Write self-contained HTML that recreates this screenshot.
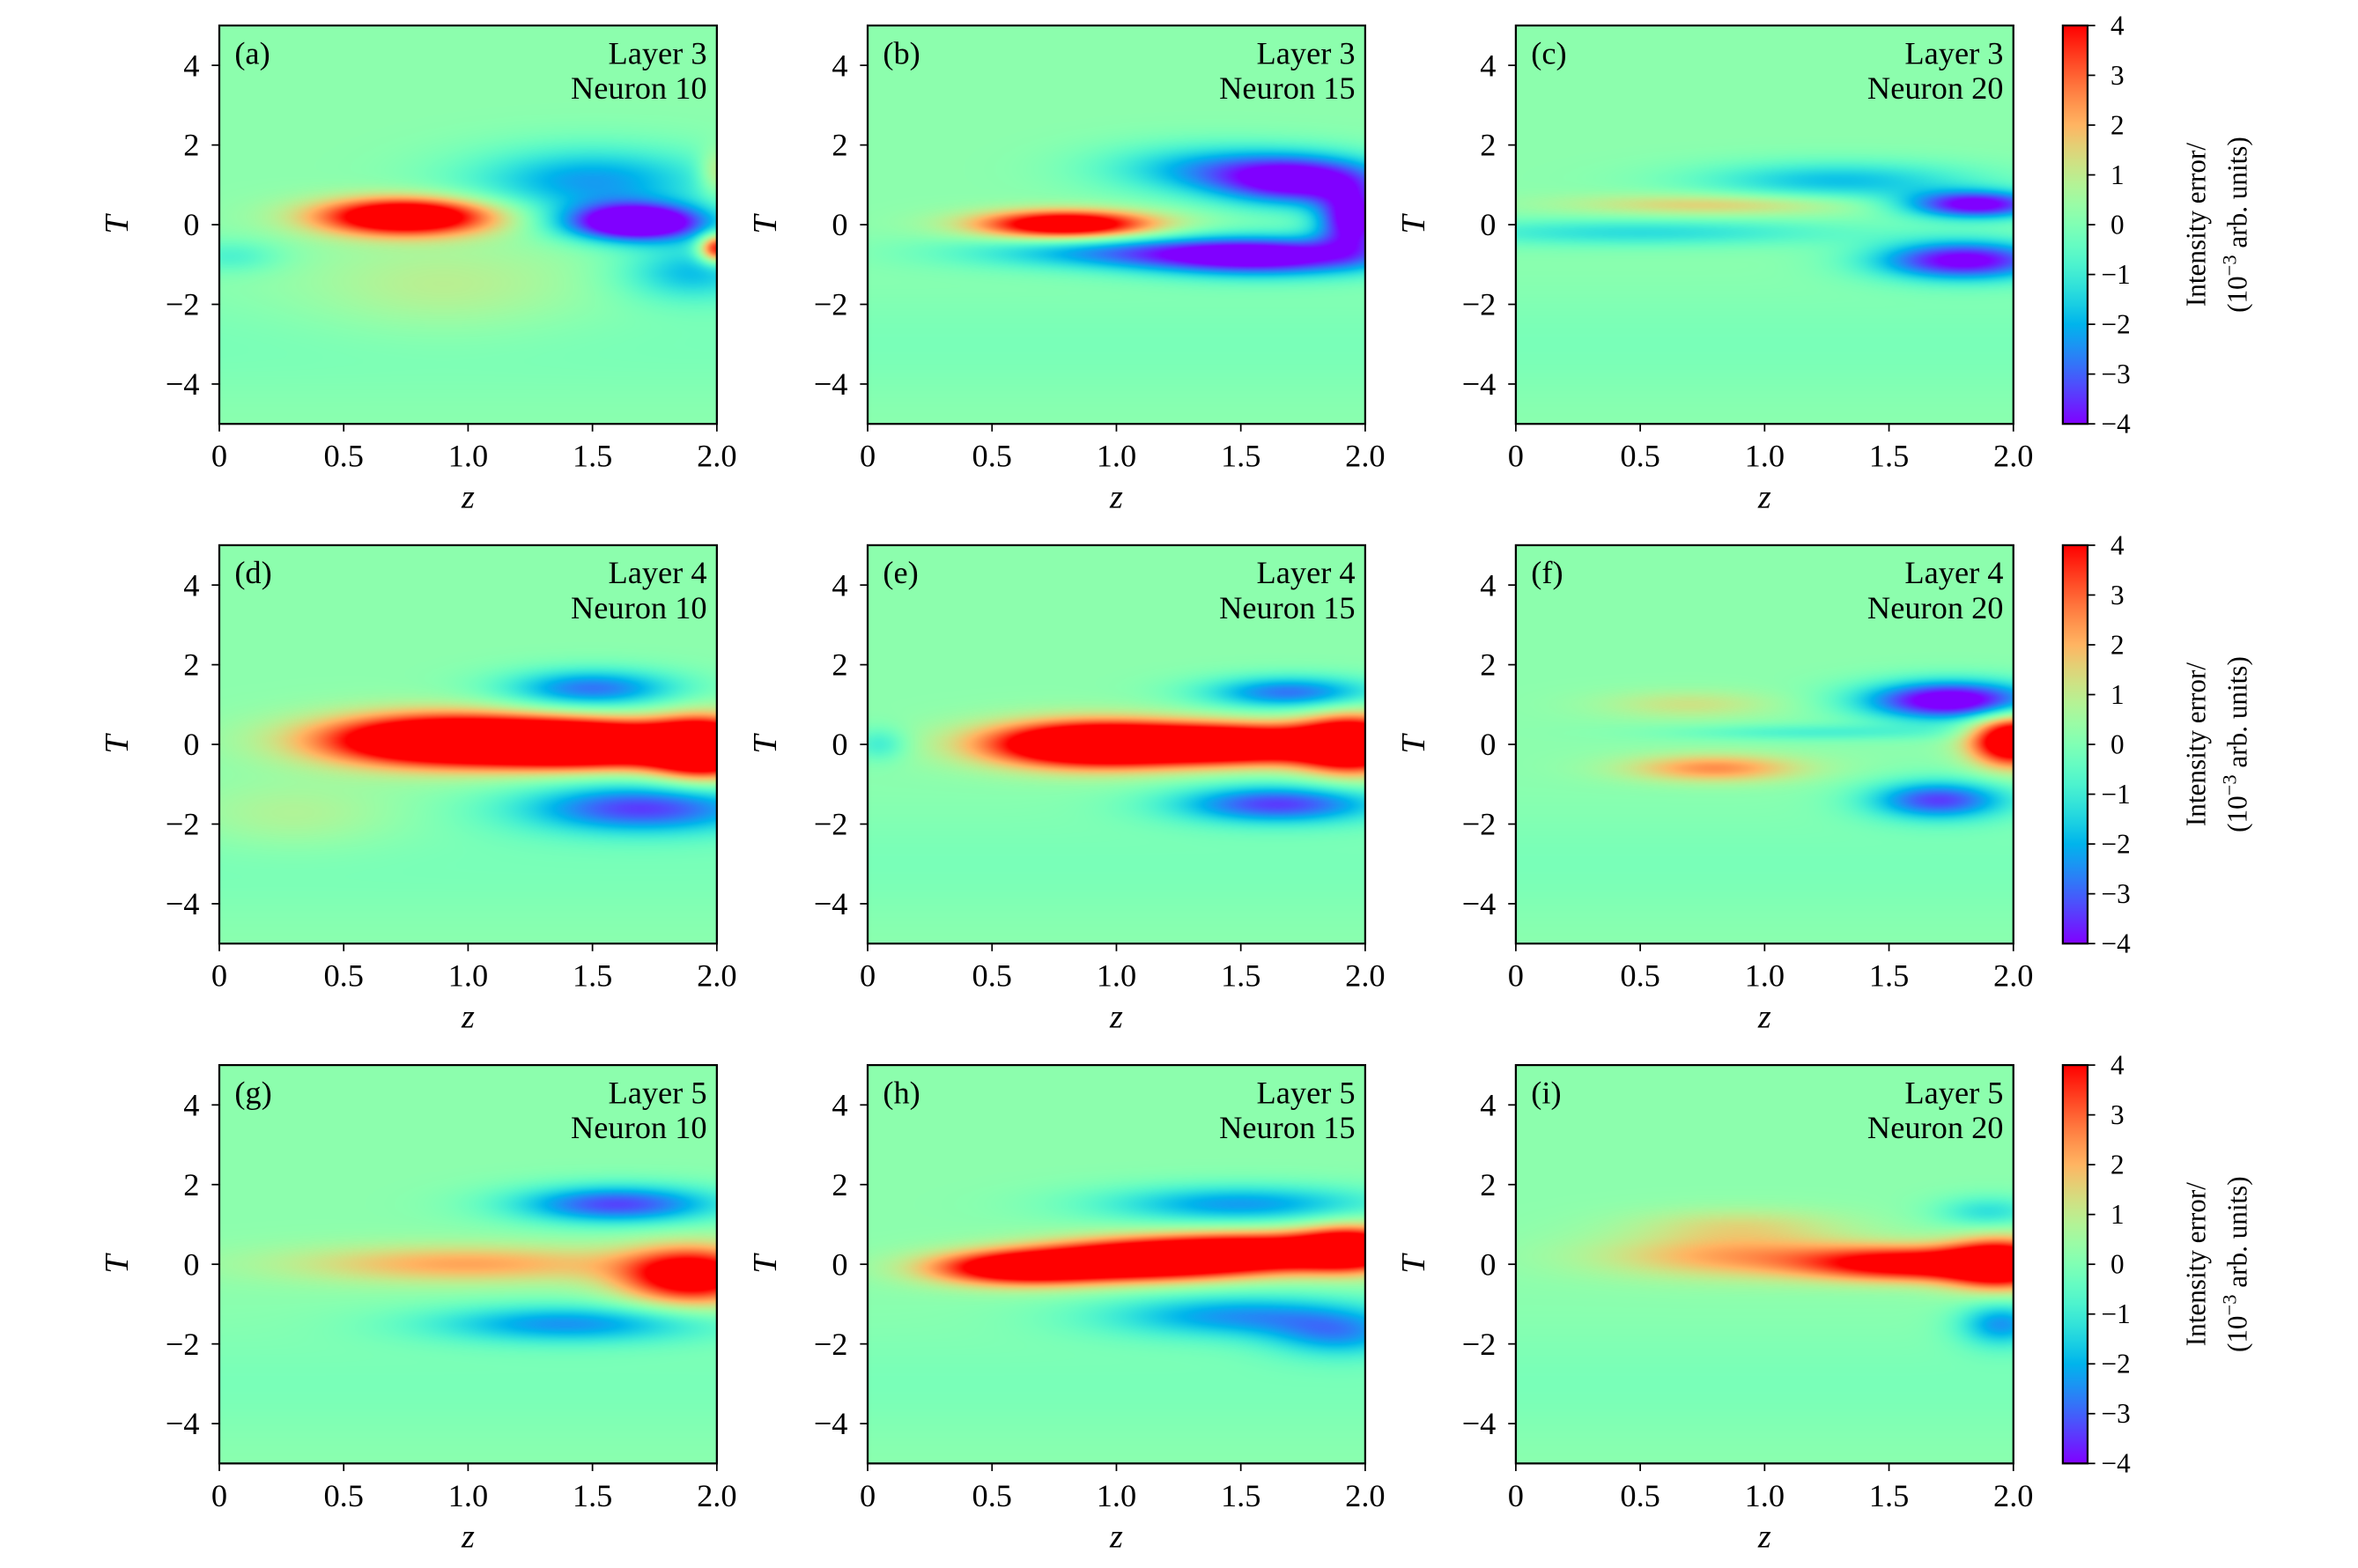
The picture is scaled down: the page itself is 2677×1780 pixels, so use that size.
<!DOCTYPE html>
<html><head><meta charset="utf-8"><style>
html,body{margin:0;padding:0;background:#fff}
#page{position:relative;width:2677px;height:1780px;overflow:hidden;background:#fff}
canvas{position:absolute}
svg{position:absolute;left:0;top:0}
text{font-family:"Liberation Serif",serif;fill:#000}
</style></head><body>
<div id="page">
<svg id="svg" width="2677" height="1780" viewBox="0 0 1545 1027.3"></svg>
</div>
<script>
// ---- data ----
const xTicks=[0,0.5,1.0,1.5,2.0];
const xTickLabels=["0","0.5","1.0","1.5","2.0"];
const yTicks=[-4,-2,0,2,4];
const yTickLabels=["\u22124","\u22122","0","2","4"];
const cbTicks=[-4,-3,-2,-1,0,1,2,3,4];
const cbTickLabels=["\u22124","\u22123","\u22122","\u22121","0","1","2","3","4"];
const panelLetters=["(a)","(b)","(c)","(d)","(e)","(f)","(g)","(h)","(i)"];
const panelLayers=[3,3,3,4,4,4,5,5,5];
const panelNeurons=[10,15,20,10,15,20,10,15,20];
// blobs: [z, T, sigmaZ, sigmaT, amplitude(1e-3)]
const blobsA=[[0.75,0.2,0.25,0.33,6],[1.68,0.05,0.2,0.33,-6],[1.5,1.1,0.35,0.6,-2.5],[1.9,-1.2,0.2,0.5,-2],[2.0,-0.6,0.05,0.25,4.5],[0.9,-1.6,0.4,0.8,0.8],[0.05,-0.8,0.15,0.3,-1],[2.0,1.3,0.05,0.4,1.5]];
const blobsB=[[0.8,0.0,0.25,0.25,5.5],[1.75,1.1,0.25,0.45,-4.5],[1.6,-0.8,0.35,0.35,-4.5],[1.95,0.1,0.1,0.5,-4.5],[1.0,-0.7,0.45,0.3,-2.2],[1.35,1.4,0.3,0.45,-2]];
const blobsC=[[1.85,0.5,0.2,0.25,-4.5],[1.8,-0.9,0.25,0.35,-4.5],[1.3,1.1,0.4,0.35,-2],[0.5,-0.2,0.6,0.25,-1.5],[0.8,0.5,0.4,0.2,1.5]];
const blobsD=[[0.9,0.1,0.35,0.45,7],[1.5,0.0,0.3,0.4,7],[1.95,-0.1,0.15,0.5,7],[1.5,1.4,0.25,0.35,-3],[1.7,-1.6,0.35,0.45,-3.5],[0.3,-1.8,0.3,0.6,0.7]];
const blobsE=[[0.9,0.0,0.3,0.4,7],[1.5,0.0,0.3,0.35,6],[1.95,0.0,0.15,0.5,6],[1.7,1.3,0.25,0.3,-3],[1.65,-1.5,0.3,0.35,-3.5],[0.05,0.0,0.08,0.3,-1.2]];
const blobsF=[[1.75,1.1,0.25,0.35,-5],[1.7,-1.4,0.2,0.35,-3.5],[2.0,0.1,0.12,0.45,6],[0.8,-0.6,0.25,0.25,2.3],[0.7,1.0,0.25,0.25,1],[1.2,0.3,0.4,0.15,-1]];
const blobsG=[[1.0,0.0,0.5,0.35,2],[1.9,-0.3,0.2,0.5,5],[1.6,1.5,0.3,0.35,-3.5],[1.4,-1.5,0.4,0.35,-2.5]];
const blobsH=[[0.6,-0.1,0.25,0.3,5],[1.1,0.1,0.3,0.35,6],[1.6,0.3,0.3,0.35,5],[1.95,0.4,0.15,0.4,4.5],[1.5,1.5,0.4,0.35,-2.5],[1.5,-1.3,0.4,0.4,-2.5],[1.9,-1.8,0.2,0.4,-2]];
const blobsI=[[0.9,0.2,0.4,0.4,2],[1.6,0.0,0.3,0.3,4.5],[1.95,0.0,0.15,0.45,5],[0.9,1.0,0.3,0.3,1],[1.95,-1.5,0.12,0.4,-2.5],[1.9,1.3,0.15,0.3,-1.5]];
const panelBlobs=[blobsA,blobsB,blobsC,blobsD,blobsE,blobsF,blobsG,blobsH,blobsI];
const baseline=0.2;

// ---- layout (display coords) ----
const S=2677/1545;
const colX=[143.7,568.5,993.2], W=326;
const rowY=[16.7,357.2,697.8], H=261;
const cbX=1351.6, cbW=16.2;
const NS="http://www.w3.org/2000/svg";
const svg=document.getElementById('svg');
const page=document.getElementById('page');
function el(tag,attrs,parent){const e=document.createElementNS(NS,tag);for(const k in attrs)e.setAttribute(k,attrs[k]);(parent||svg).appendChild(e);return e;}
function rainbow(v){let x=(v+4)/8;x=Math.max(0,Math.min(1,x));
 const r=Math.min(1,Math.abs(2*x-0.5)),g=Math.sin(Math.PI*x),b=Math.cos(Math.PI/2*x);
 return [Math.round(r*255),Math.round(g*255),Math.round(b*255)];}
function field(blobs,z,T){let v=baseline-0.3*Math.exp(-((T+3)*(T+3))/2);
 for(const b of blobs){const dz=(z-b[0])/b[2],dt=(T-b[1])/b[3];v+=b[4]*Math.exp(-0.5*(dz*dz+dt*dt));}return v;}

for(let p=0;p<9;p++){
 const r=Math.floor(p/3),c=p%3;const x0=colX[c],y0=rowY[r];
 const sx=v=>x0+v/2*W, sy=v=>y0+H-(v+5)/10*H;
 const cv=document.createElement('canvas');
 
 
 const cw=Math.round(W*S),ch=Math.round(H*S);
 cv.width=cw;cv.height=ch;cv.style.left=(x0*S)+'px';cv.style.top=(y0*S)+'px';
 page.insertBefore(cv,svg);
 const ctx=cv.getContext('2d');const img=ctx.createImageData(cw,ch);
 for(let j=0;j<ch;j++){const T=5-10*(j+0.5)/ch;for(let i=0;i<cw;i++){const z=2*(i+0.5)/cw;
  const col=rainbow(field(panelBlobs[p],z,T));const k=(j*cw+i)*4;
  img.data[k]=col[0];img.data[k+1]=col[1];img.data[k+2]=col[2];img.data[k+3]=255;}}
 ctx.putImageData(img,0,0);
 const g=el('g',{});
 
 
 const fr=el('rect',{x:x0,y:y0,width:W,height:H,fill:'none',stroke:'#000','stroke-width':1.3},g);
 
 xTicks.forEach((t,i)=>{const X=sx(t);el('line',{x1:X,x2:X,y1:y0+H,y2:y0+H+5,stroke:'#000','stroke-width':1},g);
  const tx=el('text',{x:X,y:y0+H+28,'font-size':21,'text-anchor':'middle'},g);tx.textContent=xTickLabels[i];
  });
 yTicks.forEach((t,i)=>{const Y=sy(t);el('line',{x1:x0-5,x2:x0,y1:Y,y2:Y,stroke:'#000','stroke-width':1},g);
  const tx=el('text',{x:x0-13,y:Y+7,'font-size':21,'text-anchor':'end'},g);tx.textContent=yTickLabels[i];
  });
 const xl=el('text',{x:x0+W/2,y:y0+H+55,'font-size':22,'font-style':'italic','text-anchor':'middle'},g);xl.textContent='z';
 
 const yl=el('text',{x:0,y:0,'font-size':22,'font-style':'italic','text-anchor':'middle',transform:`translate(${x0-60},${y0+H/2}) rotate(-90)`},g);yl.textContent='T';
 
 const lt=el('text',{x:x0+10,y:y0+25,'font-size':21},g);lt.textContent=panelLetters[p];
 
 const l1=el('text',{x:x0+W-6.5,y:y0+25,'font-size':21,'text-anchor':'end'},g);l1.textContent='Layer '+panelLayers[p];
 
 const l2=el('text',{x:x0+W-6.5,y:y0+48,'font-size':21,'text-anchor':'end'},g);l2.textContent='Neuron '+panelNeurons[p];
 
}
// colorbars
const defs=el('defs',{});
const grad=el('linearGradient',{id:'cbg',x1:0,y1:1,x2:0,y2:0},defs);
for(let k=0;k<=20;k++){const v=-4+8*k/20;const c=rainbow(v);el('stop',{offset:k/20,'stop-color':`rgb(${c[0]},${c[1]},${c[2]})`},grad);}
for(let r=0;r<3;r++){
 const y0=rowY[r];const cy=v=>y0+H-(v+4)/8*H;
 const g=el('g',{});
 el('rect',{x:cbX,y:y0,width:cbW,height:H,fill:'url(#cbg)',stroke:'#000','stroke-width':1.3},g);
 cbTicks.forEach((t,i)=>{const Y=cy(t);el('line',{x1:cbX+cbW,x2:cbX+cbW+5,y1:Y,y2:Y,stroke:'#000','stroke-width':1},g);
  const tx=el('text',{x:cbX+cbW+(t<0?9:15),y:Y+6,'font-size':18},g);tx.textContent=cbTickLabels[i];
  });
 const t1=el('text',{x:0,y:0,'font-size':18,'text-anchor':'middle',transform:`translate(${1445},${y0+H/2}) rotate(-90)`},g);t1.textContent='Intensity error/';
 
 const t2=el('text',{x:0,y:0,'font-size':18,'text-anchor':'middle',transform:`translate(${1472},${y0+H/2}) rotate(-90)`},g);
 t2.innerHTML='(10<tspan dy="-7" font-size="13">\u22123</tspan><tspan dy="7"> arb. units)</tspan>';
 
}
</script>
</body></html>
